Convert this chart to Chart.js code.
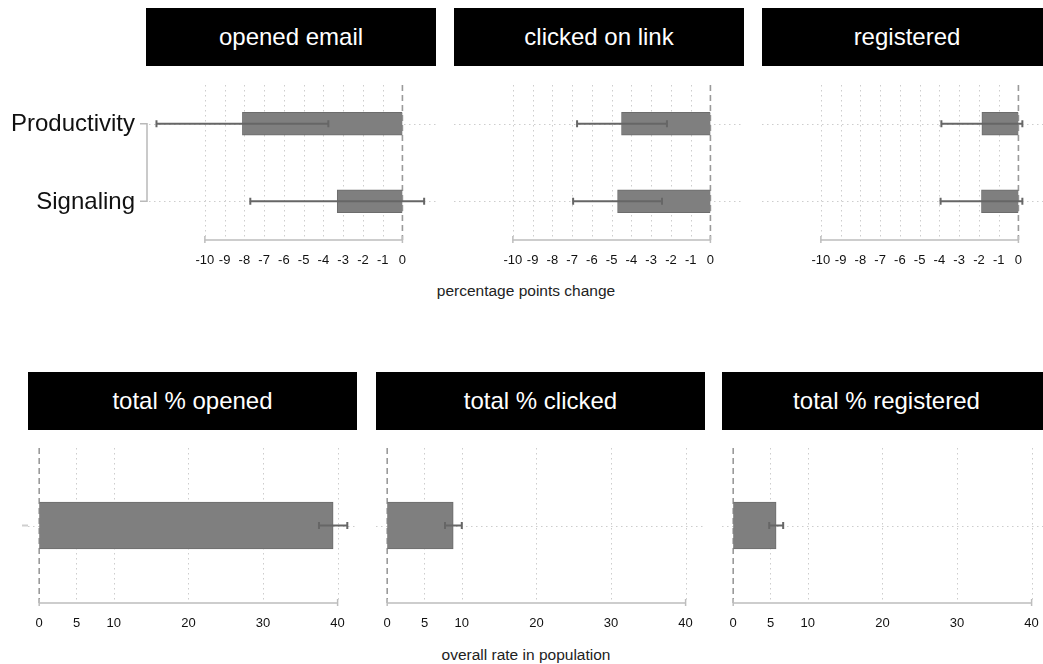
<!DOCTYPE html>
<html>
<head>
<meta charset="utf-8">
<script src="https://cdn.jsdelivr.net/npm/chart.js@4.4.1/dist/chart.umd.min.js"></script>
<style>
  html, body { margin: 0; padding: 0; background: #fff; width: 1043px; height: 664px; overflow: hidden; }
  #fig { position: relative; width: 1043px; height: 664px; overflow: hidden; font-family: "Liberation Sans", Arial, sans-serif; }
  .strip { position: absolute; height: 58px; background: #000; color: #fff; font-size: 24px;
           display: flex; align-items: center; justify-content: center; white-space: nowrap; }
  canvas { position: absolute; }
  .axis-title { position: absolute; font-size: 15.5px; color: #222; transform: translate(-50%, -50%); white-space: nowrap; }
</style>
</head>
<body>
<div id="fig">
  <div class="strip" style="left:146px; top:8px; width:290px;">opened email</div>
  <div class="strip" style="left:454px; top:8px; width:290px;">clicked on link</div>
  <div class="strip" style="left:762px; top:8px; width:290px;">registered</div>

  <canvas id="pOpened" width="436" height="200" style="left:0; top:80px;"></canvas>
  <canvas id="pClicked" width="290" height="200" style="left:454px; top:80px;"></canvas>
  <canvas id="pRegistered" width="290" height="200" style="left:762px; top:80px;"></canvas>

  <div class="axis-title" style="left:526px; top:291px;">percentage points change</div>

  <div class="strip" style="left:28px; top:372px; width:329px;">total % opened</div>
  <div class="strip" style="left:376px; top:372px; width:329px;">total % clicked</div>
  <div class="strip" style="left:722px; top:372px; width:329px;">total % registered</div>

  <canvas id="tOpened" width="357" height="203" style="left:0; top:440px;"></canvas>
  <canvas id="tClicked" width="329" height="203" style="left:376px; top:440px;"></canvas>
  <canvas id="tRegistered" width="329" height="203" style="left:722px; top:440px;"></canvas>

  <div class="axis-title" style="left:526px; top:655px;">overall rate in population</div>
</div>

<script>
// Treatment effects (percentage points) with 95% intervals
const effectRows = ['Productivity', 'Signaling'];
const effectTicks = [-10, -9, -8, -7, -6, -5, -4, -3, -2, -1, 0];

const openedChange = [-8.1, -3.3];
const openedLow = [-12.45, -7.7];
const openedHigh = [-3.75, 1.1];

const clickedChange = [-4.5, -4.7];
const clickedLow = [-6.75, -6.95];
const clickedHigh = [-2.2, -2.45];

const registeredChange = [-1.85, -1.87];
const registeredLow = [-3.9, -3.94];
const registeredHigh = [0.2, 0.2];

// Overall rates in the population (%)
const totalRows = [''];
const rateTicks = [0, 5, 10, 20, 30, 40];

const totalOpened = [39.4];
const totalOpenedLow = [37.5];
const totalOpenedHigh = [41.3];

const totalClicked = [8.85];
const totalClickedLow = [7.75];
const totalClickedHigh = [10.0];

const totalRegistered = [5.75];
const totalRegisteredLow = [4.83];
const totalRegisteredHigh = [6.7];

Chart.defaults.font.family = '"Liberation Sans", Arial, sans-serif';

function seg(ctx, x1, y1, x2, y2) {
  ctx.beginPath();
  ctx.moveTo(x1, y1);
  ctx.lineTo(x2, y2);
  ctx.stroke();
}

// Grid, zero reference, partial axis line, error bars, row labels and bracket
const panelDecor = {
  id: 'panelDecor',
  beforeDatasetsDraw(chart, args, opts) {
    const { ctx, chartArea: a, scales: { x, y } } = chart;
    ctx.save();
    // dotted vertical grid at each tick
    ctx.strokeStyle = '#cdcdcd';
    ctx.lineWidth = 1;
    ctx.setLineDash([1.5, 3.5]);
    opts.ticks.forEach(v => {
      if (v === 0) return;
      const px = Math.round(x.getPixelForValue(v)) + 0.5;
      seg(ctx, px, a.top, px, a.bottom);
    });
    // dotted line along each row
    chart.data.labels.forEach((_, i) => {
      const py = Math.round(y.getPixelForValue(i)) + 0.5;
      seg(ctx, a.left + (opts.bracket ? 3 : 0), py, a.right, py);
    });
    // dashed zero line
    ctx.strokeStyle = '#9a9a9a';
    ctx.lineWidth = 1.6;
    ctx.setLineDash([6, 4]);
    const x0 = x.getPixelForValue(0);
    seg(ctx, x0, a.top, x0, a.bottom);
    // axis line spanning the tick range
    ctx.setLineDash([]);
    ctx.strokeStyle = '#bdbdbd';
    ctx.lineWidth = 1.5;
    const xa = x.getPixelForValue(opts.ticks[0]);
    const xb = x.getPixelForValue(opts.ticks[opts.ticks.length - 1]);
    seg(ctx, xa, a.bottom, xb, a.bottom);
    seg(ctx, xa, a.bottom - 4, xa, a.bottom + 3);
    seg(ctx, xb, a.bottom - 4, xb, a.bottom + 3);
    // row labels with a bracket joining the two treatment rows
    if (opts.bracket) {
      const y1 = y.getPixelForValue(0), y2 = y.getPixelForValue(1);
      ctx.strokeStyle = '#b9b9b9';
      ctx.lineWidth = 1.5;
      ctx.beginPath();
      ctx.moveTo(a.left - 6, y1);
      ctx.lineTo(a.left + 1, y1);
      ctx.lineTo(a.left + 1, y2);
      ctx.lineTo(a.left - 6, y2);
      ctx.stroke();
      ctx.fillStyle = '#111';
      ctx.font = '24px "Liberation Sans", Arial, sans-serif';
      ctx.textAlign = 'right';
      ctx.textBaseline = 'middle';
      chart.data.labels.forEach((lab, i) => {
        ctx.fillText(lab, a.left - 11, y.getPixelForValue(i) + 1);
      });
    }
    // short stub marking the single row
    if (opts.stub) {
      ctx.strokeStyle = '#cfcfcf';
      ctx.lineWidth = 2;
      const py = y.getPixelForValue(0);
      seg(ctx, a.left - 6, py, a.left, py);
    }
    ctx.restore();
  },
  afterDatasetsDraw(chart) {
    const { ctx, scales: { x, y } } = chart;
    const ds = chart.data.datasets[0];
    ctx.save();
    ctx.strokeStyle = '#666';
    ctx.lineWidth = 2;
    ds.data.forEach((_, i) => {
      const py = y.getPixelForValue(i);
      const x1 = x.getPixelForValue(ds.low[i]);
      const x2 = x.getPixelForValue(ds.high[i]);
      seg(ctx, x1, py, x2, py);
      seg(ctx, x1, py - 3.5, x1, py + 3.5);
      seg(ctx, x2, py - 3.5, x2, py + 3.5);
    });
    ctx.restore();
  }
};

function makePanel(id, cfg) {
  return new Chart(document.getElementById(id), {
    type: 'bar',
    data: {
      labels: cfg.rows,
      datasets: [{
        data: cfg.values,
        low: cfg.low,
        high: cfg.high,
        backgroundColor: '#7f7f7f',
        borderColor: '#6c6c6c',
        borderWidth: 1,
        barThickness: cfg.barThickness
      }]
    },
    options: {
      indexAxis: 'y',
      responsive: false,
      animation: false,
      events: [],
      layout: { padding: { left: cfg.padLeft, top: cfg.padTop, right: 0, bottom: 0 } },
      plugins: {
        legend: { display: false },
        tooltip: { enabled: false },
        panelDecor: { ticks: cfg.ticks, bracket: !!cfg.bracket, stub: !!cfg.stub }
      },
      scales: {
        x: {
          type: 'linear',
          min: cfg.min,
          max: cfg.max,
          afterBuildTicks: s => { s.ticks = cfg.ticks.map(v => ({ value: v })); },
          afterFit: s => { s.height = 40; s.paddingLeft = 0; s.paddingRight = 0; },
          grid: { display: false, drawTicks: false },
          border: { display: false },
          ticks: { padding: 13, color: '#111', font: { size: 13 }, maxRotation: 0, autoSkip: false,
                   callback: v => String(v) }
        },
        y: {
          display: false,
          grid: { display: false },
          border: { display: false }
        }
      }
    },
    plugins: [panelDecor]
  });
}

const effectAxis = { rows: effectRows, ticks: effectTicks, min: -12.98, max: 1.7, padTop: 5, barThickness: 23 };
const rateAxis = { rows: totalRows, ticks: rateTicks, min: -1.5, max: 42.6, padTop: 8, barThickness: 47 };

makePanel('pOpened', Object.assign({}, effectAxis, {
  values: openedChange, low: openedLow, high: openedHigh, padLeft: 146, bracket: true }));
makePanel('pClicked', Object.assign({}, effectAxis, {
  values: clickedChange, low: clickedLow, high: clickedHigh, padLeft: 0 }));
makePanel('pRegistered', Object.assign({}, effectAxis, {
  values: registeredChange, low: registeredLow, high: registeredHigh, padLeft: 0 }));

makePanel('tOpened', Object.assign({}, rateAxis, {
  values: totalOpened, low: totalOpenedLow, high: totalOpenedHigh, padLeft: 28, stub: true }));
makePanel('tClicked', Object.assign({}, rateAxis, {
  values: totalClicked, low: totalClickedLow, high: totalClickedHigh, padLeft: 0 }));
makePanel('tRegistered', Object.assign({}, rateAxis, {
  values: totalRegistered, low: totalRegisteredLow, high: totalRegisteredHigh, padLeft: 0 }));
</script>
</body>
</html>
